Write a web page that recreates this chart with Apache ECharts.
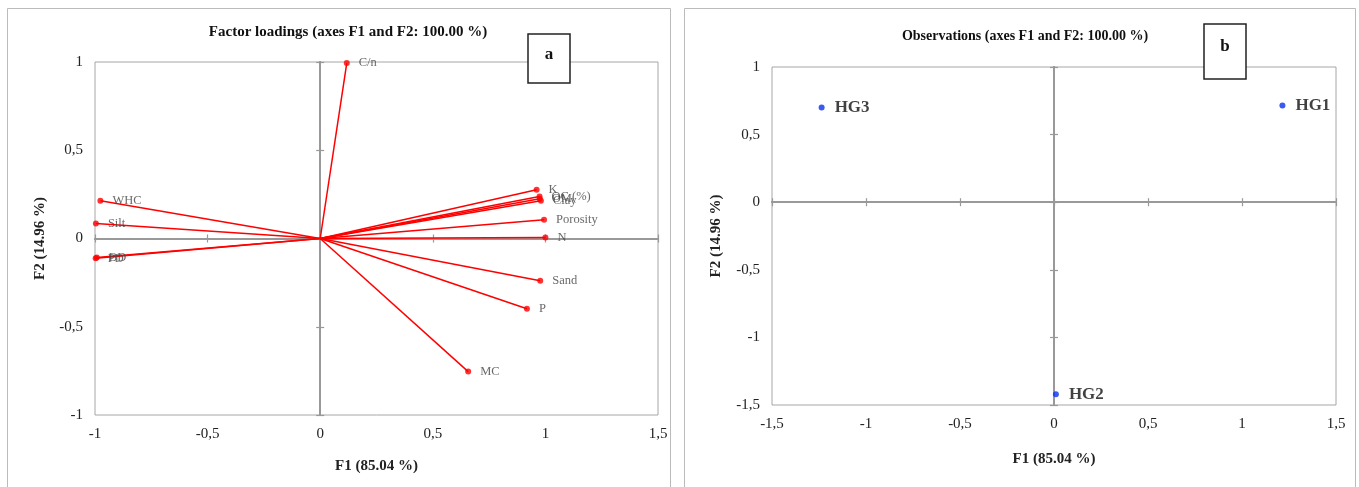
<!DOCTYPE html>
<html>
<head>
<meta charset="utf-8">
<script src="https://cdn.jsdelivr.net/npm/echarts@6/dist/echarts.min.js"></script>
<style>
  html, body { margin: 0; padding: 0; background: #fff; }
  #main { width: 1359px; height: 487px; }
</style>
</head>
<body>
<div id="main"></div>
<script>
// factor loadings (panel a)
const varNames = ['C/n', 'K', 'OC (%)', 'OM', 'Clay', 'Porosity', 'N', 'Sand', 'P', 'MC', 'WHC', 'Silt', 'BD', 'PD']
const f1Load = [0.118, 0.961, 0.974, 0.975, 0.980, 0.994, 1.000, 0.977, 0.918, 0.657, -0.976, -0.996, -0.992, -0.997]
const f2Load = [0.994, 0.276, 0.238, 0.225, 0.214, 0.106, 0.006, -0.240, -0.398, -0.754, 0.214, 0.085, -0.108, -0.112]

// observations (panel b)
const obsNames = ['HG1', 'HG2', 'HG3']
const obsF1 = [1.215, 0.010, -1.236]
const obsF2 = [0.716, -1.420, 0.700]

const serif = '"Liberation Serif", "DejaVu Serif", serif'
const comma = v => String(v).replace('.', ',')
const axisGray = '#999'

function labelAxis(grid, min, max) {
  return {
    type: 'value', gridIndex: grid, min: min, max: max, interval: 0.5,
    axisLine: { show: false, onZero: false },
    axisTick: { show: false },
    splitLine: { show: false },
    axisLabel: { formatter: comma, fontFamily: serif, fontSize: 15, color: '#222', margin: 12 }
  }
}

// the cross through the origin, ticks on both sides of the line
function zeroAxis(grid, min, max, other, inside) {
  return {
    type: 'value', gridIndex: grid, min: min, max: max, interval: 0.5,
    axisLine: { show: true, onZero: true, onZeroAxisIndex: other, lineStyle: { color: axisGray, width: 2 } },
    axisTick: { show: true, inside: inside, length: 4, lineStyle: { color: axisGray, width: 1.2 } },
    splitLine: { show: false },
    axisLabel: { show: false }
  }
}

const nameStyle = { fontFamily: serif, fontSize: 15, fontWeight: 'bold', color: '#222' }

const xAxes = [
  Object.assign(labelAxis(0, -1, 1.5), { name: 'F1 (85.04 %)', nameLocation: 'middle', nameGap: 44, nameTextStyle: nameStyle }),
  zeroAxis(0, -1, 1.5, 0, false),
  Object.assign(labelAxis(1, -1.5, 1.5), { name: 'F1 (85.04 %)', nameLocation: 'middle', nameGap: 47, nameTextStyle: nameStyle }),
  zeroAxis(1, -1.5, 1.5, 2, false),
  zeroAxis(0, -1, 1.5, 0, true),
  zeroAxis(1, -1.5, 1.5, 2, true)
]
const yAxes = [
  Object.assign(labelAxis(0, -1, 1), { name: 'F2 (14.96 %)', nameLocation: 'middle', nameGap: 47, nameTextStyle: nameStyle }),
  zeroAxis(0, -1, 1, 0, false),
  Object.assign(labelAxis(1, -1.5, 1), { name: 'F2 (14.96 %)', nameLocation: 'middle', nameGap: 48, nameTextStyle: nameStyle }),
  zeroAxis(1, -1.5, 1, 2, false),
  zeroAxis(0, -1, 1, 0, true),
  zeroAxis(1, -1.5, 1, 2, true)
]

const myChart = echarts.init(document.getElementById('main'))

const option = {
  animation: false,
  backgroundColor: '#fff',
  title: [
    { text: 'Factor loadings (axes F1 and F2: 100.00 %)', left: 343, top: 20, textAlign: 'center',
      textStyle: { fontFamily: serif, fontSize: 15, fontWeight: 'bold', color: '#111' } },
    { text: 'Observations (axes F1 and F2: 100.00 %)', left: 1020, top: 24, textAlign: 'center',
      textStyle: { fontFamily: serif, fontSize: 14, fontWeight: 'bold', color: '#111' } }
  ],
  grid: [
    { left: 95, top: 62, width: 563, height: 353, show: true, borderColor: '#a6a6a6', borderWidth: 1 },
    { left: 772, top: 67, width: 564, height: 338, show: true, borderColor: '#a6a6a6', borderWidth: 1 }
  ],
  xAxis: xAxes,
  yAxis: yAxes,
  graphic: [
    { type: 'rect', shape: { x: 7.5, y: 8.5, width: 663, height: 490 }, style: { fill: 'none', stroke: '#bbb', lineWidth: 1 }, z: -1 },
    { type: 'rect', shape: { x: 684.5, y: 8.5, width: 671, height: 490 }, style: { fill: 'none', stroke: '#bbb', lineWidth: 1 }, z: -1 },
    { type: 'rect', shape: { x: 528, y: 34, width: 42, height: 49 }, style: { fill: '#fff', stroke: '#222', lineWidth: 1.5 }, z: 100 },
    { type: 'text', x: 549, y: 46, style: { text: 'a', fontFamily: serif, fontSize: 17, fontWeight: 'bold', fill: '#111', textAlign: 'center' }, z: 101 },
    { type: 'rect', shape: { x: 1204, y: 24, width: 42, height: 55 }, style: { fill: '#fff', stroke: '#222', lineWidth: 1.5 }, z: 100 },
    { type: 'text', x: 1225, y: 38, style: { text: 'b', fontFamily: serif, fontSize: 17, fontWeight: 'bold', fill: '#111', textAlign: 'center' }, z: 101 }
  ],
  series: [
    {
      type: 'lines',
      coordinateSystem: 'cartesian2d',
      xAxisIndex: 0, yAxisIndex: 0,
      symbol: 'none',
      lineStyle: { color: '#ff0000', width: 1.5, opacity: 1 },
      data: varNames.map((n, i) => ({ coords: [[0, 0], [f1Load[i], f2Load[i]]] })),
      z: 3
    },
    {
      type: 'scatter',
      xAxisIndex: 0, yAxisIndex: 0,
      symbolSize: 6,
      itemStyle: { color: '#ff0000' },
      label: { show: true, position: 'right', distance: 9, formatter: '{b}', fontFamily: serif, fontSize: 12.5, color: '#444' },
      data: varNames.map((n, i) => ({ name: n, value: [f1Load[i], f2Load[i]] })),
      z: 4
    },
    {
      type: 'scatter',
      xAxisIndex: 2, yAxisIndex: 2,
      symbolSize: 6,
      itemStyle: { color: '#0a2ff0' },
      label: { show: true, position: 'right', distance: 10, formatter: '{b}', fontFamily: serif, fontSize: 17, fontWeight: 'bold', color: '#111' },
      data: obsNames.map((n, i) => ({ name: n, value: [obsF1[i], obsF2[i]] })),
      z: 4
    }
  ]
}

myChart.setOption(option)
</script>
</body>
</html>
